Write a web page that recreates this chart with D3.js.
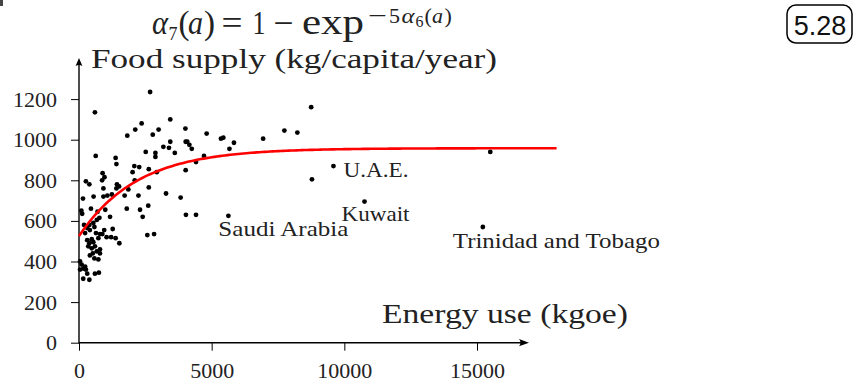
<!DOCTYPE html>
<html>
<head>
<meta charset="utf-8">
<script src="https://cdn.jsdelivr.net/npm/d3@7/dist/d3.min.js"></script>
<style>
  html, body { margin: 0; padding: 0; background: #fff; }
  svg { display: block; }
</style>
</head>
<body>
<svg id="chart" width="859" height="383"></svg>
<script>
// Energy use per capita (kgoe) and food supply (kg/capita/year), one entry per country
const energyUse = [
  2680, 600, 630, 1820, 2120, 2360, 3440, 2780, 3000, 4010,
  2515, 2880, 2880, 3180, 3390, 3440, 3610, 4020, 4080, 4160,
  4250, 4810, 5350, 5440, 5840, 5670, 4710, 4410, 4020, 8750,
  7740, 8230, 6940, 9590, 8780, 10760, 5630, 15500, 15220, 1380,
  1410, 2085, 2270, 2020, 2630, 2930, 890, 960, 870, 260,
  390, 2100, 920, 1430, 1510, 1410, 1860, 2630, 3280, 3830,
  1240, 1070, 920, 1720, 550, 150, 2240, 990, 1800, 2300,
  2610, 4030, 4410, 2400, 2575, 2830, 90, 120, 450, 700,
  1170, 190, 390, 540, 670, 770, 310, 410, 580, 640,
  790, 950, 1270, 1040, 1210, 1380, 1520, 230, 310, 480,
  390, 540, 350, 480, 600, 670, 520, 410, 580, 730,
  790, 790, 40, 100, 160, 260, 310, 40, 230, 160,
  390, 600, 750, 880, 730
];
const foodSupply = [
  1235, 1135, 920, 1020, 1050, 1080, 1100, 1025, 1050, 1055,
  940, 935, 915, 965, 960, 990, 935, 990, 990, 975,
  955, 1030, 1005, 1010, 985, 955, 920, 890, 850, 1160,
  1045, 1035, 1005, 870, 805, 695, 625, 940, 570, 910,
  880, 870, 865, 840, 855, 840, 835, 815, 800, 795,
  780, 800, 760, 780, 770, 760, 755, 765, 735, 715,
  730, 725, 720, 725, 720, 710, 725, 655, 660, 655,
  675, 630, 630, 620, 530, 535, 650, 635, 660, 645,
  620, 580, 580, 590, 605, 615, 565, 555, 570, 540,
  535, 555, 560, 520, 520, 515, 490, 540, 505, 510,
  490, 495, 475, 465, 475, 450, 440, 430, 415, 410,
  440, 460, 400, 385, 365, 360, 340, 360, 375, 315,
  310, 340, 345, 535, 515
];

// Countries named on the chart
const labelNames  = ["U.A.E.", "Kuwait", "Saudi Arabia", "Trinidad and Tobago"];
const labelEnergy = [9590, 10760, 5630, 15220];
const labelFood   = [870, 695, 625, 570];

// Axis ticks
const xTicks = [0, 5000, 10000, 15000];
const yTicks = [0, 200, 400, 600, 800, 1000, 1200];

// Fitted model: food = base + (top - base) * alpha7, alpha7 = 1 - exp(-5 * alpha6)
const fitBase = 525, fitTop = 958, energyNorm = 11000, fitEnd = 18000;

const SERIF = "Liberation Serif, Times New Roman, serif";
const svg = d3.select("#chart");
const x = d3.scaleLinear().domain([0, 15000]).range([79, 477]);
const y = d3.scaleLinear().domain([0, 1200]).range([342.7, 99.1]);

// Small mark in the top-left corner
svg.append("rect").attr("x", 0).attr("y", 0).attr("width", 3).attr("height", 6).attr("fill", "#444");

// Y axis ticks and labels
const yAxis = svg.append("g").attr("transform", `translate(${x(0)},0)`)
  .call(d3.axisLeft(y).tickValues(yTicks).tickSize(8).tickPadding(14).tickFormat(d3.format("d")));
yAxis.select(".domain").remove();
yAxis.selectAll("line").attr("stroke", "#000").attr("stroke-width", 1);
yAxis.selectAll("text").attr("font-family", SERIF).attr("font-size", 22).attr("fill", "#222")
  .attr("x", -22).attr("text-anchor", "end");

// X axis ticks and labels
const xAxis = svg.append("g").attr("transform", `translate(0,${y(0)})`)
  .call(d3.axisBottom(x).tickValues(xTicks).tickSize(8).tickFormat(d3.format("d")));
xAxis.select(".domain").remove();
xAxis.selectAll("line").attr("stroke", "#000").attr("stroke-width", 1);
xAxis.selectAll("text").attr("font-family", SERIF).attr("font-size", 22).attr("fill", "#222")
  .attr("y", 35).attr("dy", 0);

// Axis lines with arrowheads
const x0 = x(0), y0 = y(0), xTip = 529, yTip = 58;
svg.append("line").attr("x1", x0).attr("y1", y0).attr("x2", xTip - 4).attr("y2", y0)
  .attr("stroke", "#000").attr("stroke-width", 1.4);
svg.append("line").attr("x1", x0).attr("y1", y0 + 0.7).attr("x2", x0).attr("y2", yTip + 4)
  .attr("stroke", "#000").attr("stroke-width", 1.4);
svg.append("path")
  .attr("d", `M${xTip},${y0} L${xTip - 10},${y0 - 3.6} Q${xTip - 7},${y0} ${xTip - 10},${y0 + 3.6} Z`)
  .attr("fill", "#000");
svg.append("path")
  .attr("d", `M${x0},${yTip} L${x0 - 3.4},${yTip + 8} Q${x0},${yTip + 6} ${x0 + 3.4},${yTip + 8} Z`)
  .attr("fill", "#000");

// Scatter points
const pts = energyUse.map((e, i) => [e, foodSupply[i]]);
svg.append("g").selectAll("circle").data(pts).join("circle")
  .attr("cx", d => x(d[0])).attr("cy", d => y(d[1])).attr("r", 2.4).attr("fill", "#000");

// Fitted curve
const curveX = d3.range(0, fitEnd + 1, 100);
const fit = e => fitBase + (fitTop - fitBase) * (1 - Math.exp(-5 * e / energyNorm));
svg.append("path")
  .datum(curveX)
  .attr("d", d3.line().x(e => x(e)).y(e => y(fit(e))))
  .attr("fill", "none").attr("stroke", "#ff0000").attr("stroke-width", 2.6);

// Country labels
const labelOffsets = [[10, 11], [-23, 19.5], [-10, 20], [-30, 21.5]];
const labelWidths = [65, 68, 130, 207];
labelNames.forEach((name, i) => {
  svg.append("text").attr("font-family", SERIF).attr("fill", "#222")
    .attr("x", x(labelEnergy[i]) + labelOffsets[i][0])
    .attr("y", y(labelFood[i]) + labelOffsets[i][1])
    .attr("font-size", 21)
    .attr("textLength", labelWidths[i]).attr("lengthAdjust", "spacingAndGlyphs")
    .text(name);
});

// Axis titles
svg.append("text").attr("font-family", SERIF).attr("fill", "#222").attr("x", 91).attr("y", 68)
  .attr("font-size", 27).attr("textLength", 406).attr("lengthAdjust", "spacingAndGlyphs")
  .text("Food supply (kg/capita/year)");
svg.append("text").attr("font-family", SERIF).attr("fill", "#222").attr("x", 382).attr("y", 323)
  .attr("font-size", 28).attr("textLength", 246).attr("lengthAdjust", "spacingAndGlyphs")
  .text("Energy use (kgoe)");

// Model formula, set piece by piece like typeset math
const formula = [
  { t: "α", x: 152, y: 34, fs: 33, it: true, w: 16 },
  { t: "7", x: 168.5, y: 39.5, fs: 18 },
  { t: "(", x: 178.5, y: 34, fs: 33 },
  { t: "a", x: 188, y: 34, fs: 33, it: true, w: 15 },
  { t: ")", x: 204, y: 34, fs: 33 },
  { t: "=", x: 221.5, y: 34, fs: 33, w: 21 },
  { t: "1", x: 252.5, y: 34, fs: 33, w: 13 },
  { t: "−", x: 273.5, y: 34, fs: 33, w: 20 },
  { t: "exp", x: 302, y: 34, fs: 35, w: 62 },
  { t: "−", x: 368, y: 22.5, fs: 22, w: 19 },
  { t: "5", x: 389, y: 22.5, fs: 22, w: 11 },
  { t: "α", x: 401.5, y: 22.5, fs: 22, it: true, w: 13 },
  { t: "6", x: 415.5, y: 26.5, fs: 16 },
  { t: "(", x: 424.5, y: 22.5, fs: 22 },
  { t: "a", x: 432, y: 22.5, fs: 22, it: true, w: 11 },
  { t: ")", x: 444.5, y: 22.5, fs: 22 }
];
const fg = svg.append("g").attr("font-family", SERIF).attr("fill", "#222");
formula.forEach(p => {
  const t = fg.append("text").attr("x", p.x).attr("y", p.y).attr("font-size", p.fs).text(p.t);
  if (p.it) t.attr("font-style", "italic");
  if (p.w) t.attr("textLength", p.w).attr("lengthAdjust", "spacingAndGlyphs");
});

// Numbered badge
svg.append("rect").attr("x", 787).attr("y", 5).attr("width", 65).attr("height", 38).attr("rx", 9)
  .attr("fill", "none").attr("stroke", "#000").attr("stroke-width", 1.5);
svg.append("text").attr("x", 820).attr("y", 35).attr("text-anchor", "middle")
  .attr("font-family", "Liberation Sans, Arial, sans-serif").attr("font-size", 27).attr("fill", "#111")
  .text("5.28");
</script>
</body>
</html>
